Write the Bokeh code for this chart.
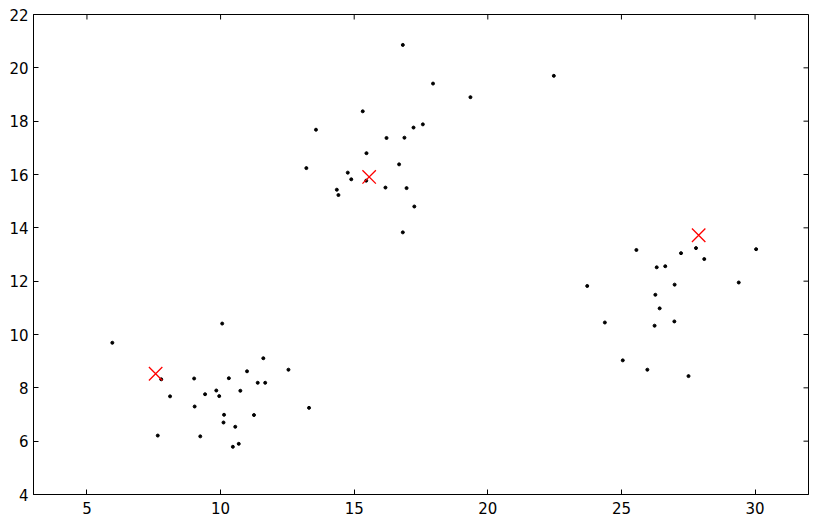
import math
from bokeh.plotting import figure
from bokeh.models import LinearAxis, FixedTicker, Range1d
from bokeh.embed import file_html
from bokeh.resources import INLINE

# data points (three clusters)
xs = [5.95, 10.06, 11.60, 12.54, 10.99, 7.78, 9.01, 10.31, 11.39, 11.67,
      8.11, 9.42, 9.84, 9.95, 10.74, 9.03, 10.13, 11.25, 13.31, 10.11,
      10.55, 7.65, 9.24, 10.68, 10.46,
      16.82, 17.95, 19.35, 15.32, 13.57, 17.57, 17.22, 16.21, 16.88, 15.46,
      16.68, 13.21, 14.76, 14.89, 15.45, 16.17, 16.96, 14.35, 14.41, 17.25,
      16.82, 22.47,
      25.56, 27.23, 27.79, 30.04, 28.10, 26.32, 26.64, 23.72, 26.99, 29.39,
      26.27, 26.43, 24.38, 26.98, 26.24, 25.05, 25.97, 27.51]
ys = [9.69, 10.41, 9.11, 8.68, 8.62, 8.32, 8.35, 8.36, 8.19, 8.19,
      7.68, 7.76, 7.90, 7.69, 7.89, 7.30, 6.99, 6.98, 7.25, 6.70,
      6.54, 6.21, 6.18, 5.90, 5.79,
      20.86, 19.41, 18.90, 18.37, 17.68, 17.88, 17.76, 17.37, 17.38, 16.80,
      16.38, 16.24, 16.07, 15.82, 15.77, 15.51, 15.49, 15.43, 15.23, 14.80,
      13.83, 19.70,
      13.17, 13.05, 13.24, 13.20, 12.83, 12.52, 12.56, 11.82, 11.87, 11.95,
      11.49, 10.98, 10.45, 10.49, 10.33, 9.03, 8.68, 8.44]

# cluster centroids
cx = [7.57, 15.56, 27.89]
cy = [8.53, 15.91, 13.72]

x_ticks = [5, 10, 15, 20, 25, 30]
y_ticks = [4, 6, 8, 10, 12, 14, 16, 18, 20, 22]
x_lim = (3, 32)
y_lim = (4, 22)

FONT = "DejaVu Sans"

p = figure(width=819, height=523, output_backend="svg", toolbar_location=None,
           x_range=Range1d(*x_lim), y_range=Range1d(*y_lim),
           min_border_left=33, min_border_right=11, min_border_top=14,
           min_border_bottom=29, x_axis_location=None, y_axis_location=None)
p.grid.visible = False
p.outline_line_color = "black"
p.outline_line_width = 1
p.background_fill_color = "white"
p.border_fill_color = "white"


def style(ax, ticks):
    ax.ticker = FixedTicker(ticks=ticks)
    ax.major_tick_in = 5
    ax.major_tick_out = 0
    ax.minor_tick_line_color = None
    ax.major_tick_line_color = "black"
    ax.axis_line_color = "black"
    ax.major_label_text_font = FONT
    ax.major_label_text_color = "black"
    ax.major_label_text_font_size = "15px"
    ax.major_label_standoff = 5


bx = LinearAxis()
style(bx, x_ticks)
bx.major_label_standoff = 7
p.add_layout(bx, "below")
ly = LinearAxis()
style(ly, y_ticks)
p.add_layout(ly, "left")

# mirrored inward tick marks on the top and right edges
p.scatter(x_ticks, [y_lim[1]] * len(x_ticks), marker="dash", size=10,
          angle=math.pi / 2, line_color="black", line_width=1)
p.scatter([x_lim[1]] * len(y_ticks), y_ticks, marker="dash", size=10,
          line_color="black", line_width=1)

p.scatter(xs, ys, size=3, fill_color="black", line_color="black")
p.scatter(cx, cy, marker="x", size=19, line_color="red", line_width=1.3)

open("out.html", "w").write(file_html(p, INLINE))
